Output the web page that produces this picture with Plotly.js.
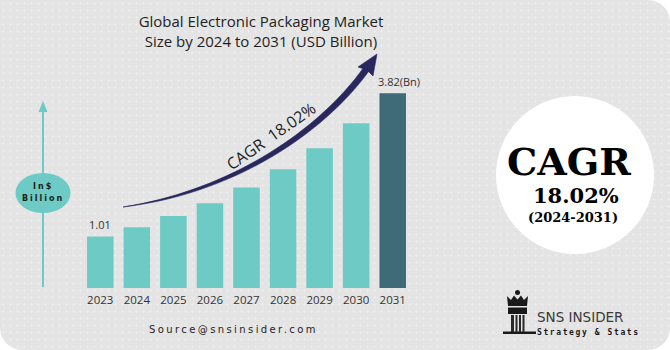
<!DOCTYPE html>
<html>
<head>
<meta charset="utf-8">
<script src="https://cdn.plot.ly/plotly-3.0.1.min.js"></script>
<style>
  html, body { margin: 0; padding: 0; background: #ffffff; }
  #wrap {
    width: 670px; height: 350px; overflow: hidden;
    background-color: #e4e4e4;
    background-image: radial-gradient(circle, rgba(255,255,255,0.35) 0.9px, rgba(255,255,255,0) 1.3px);
    background-size: 7px 7px;
    border-radius: 0 22px 22px 22px;
  }
  #chart { width: 670px; height: 350px; }
</style>
</head>
<body>
<div id="wrap"><div id="chart"></div></div>
<script>
// ---- data ----
const years = ["2023", "2024", "2025", "2026", "2027", "2028", "2029", "2030", "2031"];
const marketSize = [1.01, 1.19, 1.41, 1.66, 1.97, 2.33, 2.74, 3.23, 3.82];
const valueLabels = ["1.01", "", "", "", "", "", "", "", "3.82(Bn)"];
const barColors = ["#6dcac4", "#6dcac4", "#6dcac4", "#6dcac4", "#6dcac4", "#6dcac4", "#6dcac4", "#6dcac4", "#3e6b77"];
const titleLines = ["Global Electronic Packaging Market", "Size by 2024 to 2031 (USD Billion)"];
const cagrText = "CAGR 18.02%";
const circleLines = ["CAGR", "18.02%", "(2024-2031)"];
const unitLines = ["In$", "Billion"];
const sourceText = "Source@snsinsider.com";
const brandName = "SNS INSIDER";
const brandTag = "Strategy & Stats";

// ---- layout geometry (pixels) ----
const W = 670, H = 350;
const M = { l: 82, r: 259, t: 84, b: 62 };
const PW = W - M.l - M.r, PH = H - M.t - M.b;
const px = x => (x - M.l) / PW;
const py = y => (H - M.b - y) / PH;

const TEAL = "#6dcac4";
const NAVY = "#29275e";
const INK = "#1e1e1e";

const trace = {
  type: "bar",
  x: years,
  y: marketSize,
  marker: { color: barColors, line: { width: 0 } },
  hoverinfo: "x+y",
  showlegend: false
};

const shapes = [];
const annotations = [];

// value labels above bars (data coords, category index)
years.forEach((yr, i) => {
  if (!valueLabels[i]) return;
  annotations.push({
    xref: "x", yref: "y", x: i, y: marketSize[i],
    text: valueLabels[i], showarrow: false,
    xanchor: "center", yanchor: "bottom", yshift: 2,
    xshift: i === years.length - 1 ? 6 : 0,
    font: { family: "Open Sans", size: 11, color: "#333333" }
  });
});

// CAGR curved arrow (decoration)
function P(x, y) { return px(x).toFixed(5) + "," + py(y).toFixed(5); }
shapes.push({
  type: "path", xref: "paper", yref: "paper", layer: "above",
  path: "M " + P(123, 207) + " C " + P(232, 190) + " " + P(320, 129) + " " + P(364, 67) +
        " L " + P(369, 71) + " C " + P(324, 133) + " " + P(234, 194) + " " + P(123, 207) + " Z",
  fillcolor: NAVY, line: { color: NAVY, width: 0.6 }
});
shapes.push({
  type: "path", xref: "paper", yref: "paper", layer: "above",
  path: "M " + P(377, 54) + " L " + P(373, 76) + " L " + P(367, 70) + " L " + P(358, 67) + " Z",
  fillcolor: NAVY, line: { color: NAVY, width: 0.6 }
});
annotations.push({
  xref: "paper", yref: "paper", x: px(271), y: py(136),
  text: cagrText.replace(" ", "&nbsp;&nbsp;"), showarrow: false, textangle: -35,
  xanchor: "center", yanchor: "middle",
  font: { family: "Open Sans", size: 16, color: INK }
});

// left unit axis arrow with ellipse
shapes.push({
  type: "line", xref: "paper", yref: "paper",
  x0: px(43), x1: px(43), y0: py(287), y1: py(110),
  line: { color: TEAL, width: 2 }
});
shapes.push({
  type: "path", xref: "paper", yref: "paper",
  path: "M " + P(43, 101) + " L " + P(38.5, 112) + " L " + P(47.5, 112) + " Z",
  fillcolor: TEAL, line: { width: 0 }
});
shapes.push({
  type: "circle", xref: "paper", yref: "paper",
  x0: px(15.5), x1: px(70.5), y0: py(213), y1: py(173),
  fillcolor: TEAL, line: { width: 0 }
});
annotations.push({
  xref: "paper", yref: "paper", x: px(43), y: py(186.5),
  text: '<span style="letter-spacing:2px">' + unitLines[0] + '</span>', showarrow: false,
  xanchor: "center", yanchor: "middle",
  font: { family: "DejaVu Sans", size: 8, color: INK, weight: "bold" }
});
annotations.push({
  xref: "paper", yref: "paper", x: px(43), y: py(198),
  text: '<span style="letter-spacing:2px">' + unitLines[1] + '</span>', showarrow: false,
  xanchor: "center", yanchor: "middle",
  font: { family: "DejaVu Sans", size: 8, color: INK, weight: "bold" }
});

// right CAGR circle
shapes.push({
  type: "circle", xref: "paper", yref: "paper",
  x0: px(496), x1: px(654), y0: py(254), y1: py(96),
  fillcolor: "#ffffff", line: { width: 0 }
});
annotations.push({
  xref: "paper", yref: "paper", x: px(569), y: py(161),
  text: "<b>" + circleLines[0] + "</b>", showarrow: false,
  xanchor: "center", yanchor: "middle",
  font: { family: "DejaVu Serif", size: 38, color: "#000000" }
});
annotations.push({
  xref: "paper", yref: "paper", x: px(576), y: py(195),
  text: "<b>" + circleLines[1] + "</b>", showarrow: false,
  xanchor: "center", yanchor: "middle",
  font: { family: "DejaVu Serif", size: 21, color: "#000000" }
});
annotations.push({
  xref: "paper", yref: "paper", x: px(573), y: py(217),
  text: "<b>" + circleLines[2] + "</b>", showarrow: false,
  xanchor: "center", yanchor: "middle",
  font: { family: "DejaVu Serif", size: 13, color: "#000000" }
});

// source text
annotations.push({
  xref: "paper", yref: "paper", x: px(233), y: py(329),
  text: '<span style="letter-spacing:2.4px">' + sourceText + '</span>', showarrow: false,
  xanchor: "center", yanchor: "middle",
  font: { family: "DejaVu Sans", size: 10, color: INK }
});

// brand logo (decoration)
shapes.push({ type: "circle", xref: "paper", yref: "paper",
  x0: px(515), x1: px(520), y0: py(295), y1: py(290), fillcolor: "#1a1a1a", line: { width: 0 } });
shapes.push({ type: "path", xref: "paper", yref: "paper",
  path: "M " + P(507, 296) + " L " + P(511, 300) + " L " + P(514, 295.5) + " L " + P(517.5, 299.5) +
        " L " + P(521, 295.5) + " L " + P(524, 300) + " L " + P(528, 296) + " L " + P(527, 306) + " L " + P(508, 306) + " Z",
  fillcolor: "#1a1a1a", line: { width: 0 } });
shapes.push({ type: "rect", xref: "paper", yref: "paper",
  x0: px(508), x1: px(527), y0: py(314), y1: py(307.5), fillcolor: "#1a1a1a", line: { width: 0 } });
[[511, 514], [515.5, 517.5], [519, 521], [522.5, 524.5]].forEach(c => {
  shapes.push({ type: "rect", xref: "paper", yref: "paper",
    x0: px(c[0]), x1: px(c[1]), y0: py(332), y1: py(315), fillcolor: "#2a2a2a", line: { width: 0 } });
});
shapes.push({ type: "rect", xref: "paper", yref: "paper",
  x0: px(503), x1: px(536), y0: py(334), y1: py(331.5), fillcolor: "#1a1a1a", line: { width: 0 } });
annotations.push({
  xref: "paper", yref: "paper", x: px(535), y: py(316.5),
  text: brandName, showarrow: false, xanchor: "left", yanchor: "middle",
  font: { family: "DejaVu Sans", size: 13.5, color: "#3a3a3a" }
});
annotations.push({
  xref: "paper", yref: "paper", x: px(535), y: py(332.5),
  text: '<span style="letter-spacing:1.6px">' + brandTag + '</span>', showarrow: false,
  xanchor: "left", yanchor: "middle",
  font: { family: "DejaVu Sans Mono", size: 8, color: "#1a1a1a", weight: "bold" }
});

const layout = {
  width: W, height: H,
  margin: M,
  paper_bgcolor: "rgba(0,0,0,0)",
  plot_bgcolor: "rgba(0,0,0,0)",
  bargap: 0.275,
  title: {
    text: titleLines.join("<br>"),
    xref: "paper", x: px(261), xanchor: "center",
    yref: "container", y: 1 - 27 / H, yanchor: "middle",
    font: { family: "Open Sans", size: 15, color: INK }
  },
  xaxis: {
    type: "category",
    range: [-0.5, years.length - 0.5],
    showline: false, showgrid: false, zeroline: false, ticks: "",
    tickfont: { family: "Open Sans", size: 11.5, color: "#333333" },
    ticklabelstandoff: 3,
    fixedrange: true
  },
  yaxis: {
    range: [0, 4], visible: false, showgrid: false, zeroline: false, fixedrange: true
  },
  shapes: shapes,
  annotations: annotations
};

Plotly.newPlot("chart", [trace], layout, { displayModeBar: false, staticPlot: true });
</script>
</body>
</html>
